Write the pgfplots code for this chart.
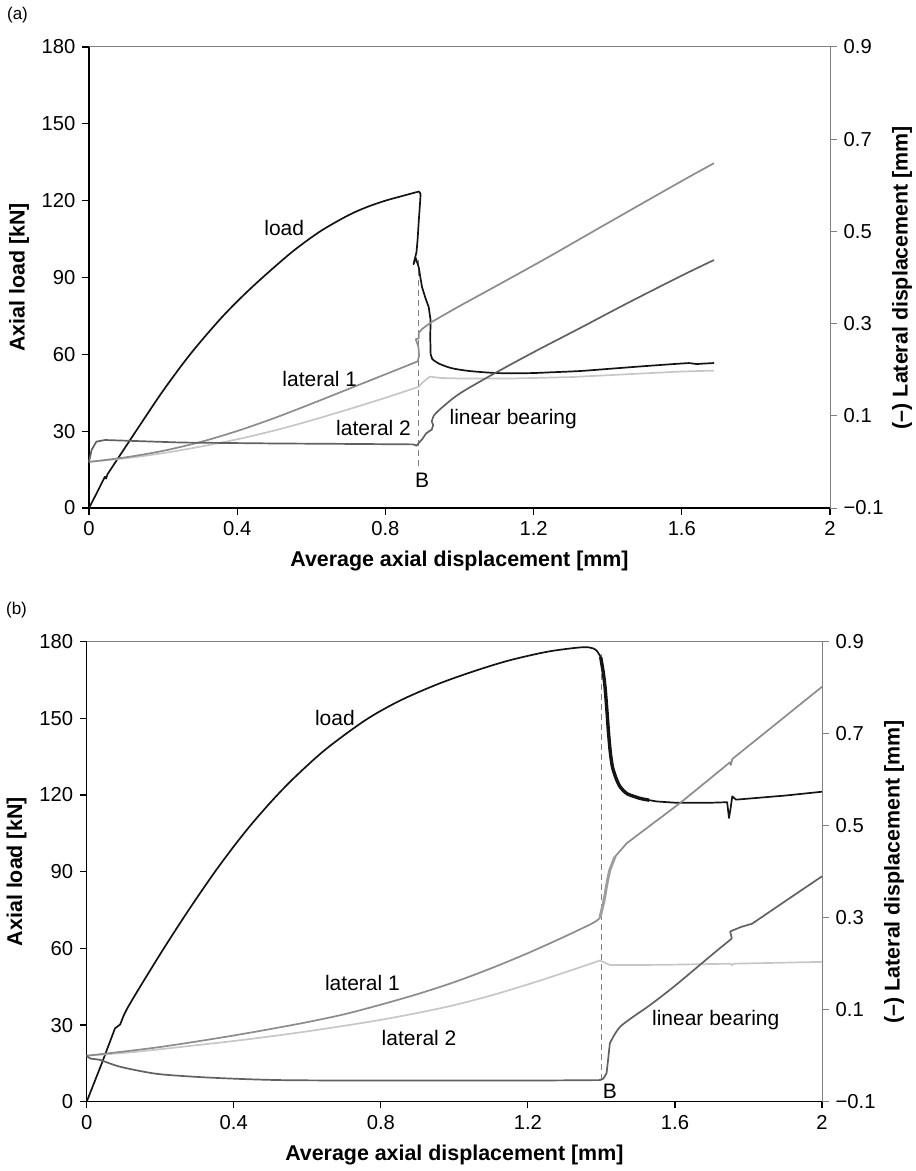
\documentclass[border=0pt]{standalone}
\usepackage{pgfplots}
\pgfplotsset{compat=1.18}
\usepackage{fontspec}
\setmainfont{Liberation Sans}
\newcommand\tfs{\fontsize{10.1}{11}\selectfont}
\newcommand\lfs{\fontsize{10.7}{12}\selectfont\bfseries}
\newcommand\afs{\fontsize{10.5}{12}\selectfont}
\definecolor{cLoad}{gray}{0.08}
\definecolor{cLat1}{gray}{0.55}
\definecolor{cLat2}{gray}{0.78}
\definecolor{cLin}{gray}{0.38}
\definecolor{cAx}{gray}{0.5}

\pgfplotsset{
  common/.style={
    scale only axis, clip=false,
    xmin=0, xmax=2,
    tick align=outside, major tick length=3.3pt,
    ticklabel style={font=\tfs},
    axis line style={-},
  },
  leftax/.style={
    common,
    ymin=0, ymax=180,
    xtick={0,0.4,0.8,1.2,1.6,2}, xticklabels={0,0.4,0.8,1.2,1.6,2},
    ytick={0,30,60,90,120,150,180}, yticklabels={0,30,60,90,120,150,180},
    axis x line*=bottom, axis y line*=left,
    axis line style={black, line width=0.6pt},
    tick style={black, line width=0.6pt},
    xlabel={Average axial displacement [mm]},
    ylabel={Axial load [kN]},
    xlabel style={font=\lfs, at={([yshift=-26.5pt]axis description cs:0.5,0)}, anchor=center},
    ylabel style={font=\lfs, at={([xshift=-35pt]axis description cs:0,0.5)}, anchor=center},
  },
  rightax/.style={
    common,
    ymin=-0.1, ymax=0.9,
    ytick={-0.1,0.1,0.3,0.5,0.7,0.9}, yticklabels={−0.1,0.1,0.3,0.5,0.7,0.9},
    axis x line=none, axis y line*=right,
    axis line style={cAx, line width=0.5pt},
    tick style={cAx, line width=0.5pt},
    ylabel={(–) Lateral displacement [mm]},
    ylabel style={font=\lfs, at={([xshift=36pt]axis description cs:1,0.5)}, anchor=center},
  },
  crv/.style={line width=0.85pt, line join=round, mark=none},
  scrv/.style={crv, smooth, tension=0.5},
}

\begin{document}
\begin{tikzpicture}
\useasboundingbox (0,0) rectangle (457.5pt,-585.5pt);

% ---------------- panel (a) ----------------
\node[font=\fontsize{8.5}{10}\selectfont] at (8.75pt,-7.5pt) {(a)};
\begin{axis}[leftax, at={(44.5pt,-254pt)}, anchor=south west, width=370.5pt, height=230.5pt]
\draw[cAx, densely dashed, line width=0.4pt] (axis cs:0.89,97) -- (axis cs:0.89,15.5);
\addplot[crv, cLoad] coordinates {
(0,0) (0.02,5.6) (0.043,12.2) (0.046,11.5) (0.05,13.2)};
\addplot[scrv, cLoad] coordinates {
(0.05,13.2) (0.129,30.5) (0.2,45.8) (0.273,60) (0.35,73.1) (0.408,81.8) (0.467,89.8)
(0.55,100.2) (0.625,108.1) (0.7,114.3) (0.75,117.5) (0.8,120) (0.85,122) (0.891,123.6)};
\addplot[crv, cLoad] coordinates {
(0.891,123.6) (0.895,122.5) (0.893,118) (0.89,112) (0.887,105)
(0.884,100) (0.878,96.5) (0.876,95.2) (0.882,97.6) (0.89,94) (0.895,89.5) (0.899,86.2)
(0.908,82) (0.917,78.4) (0.922,73.2) (0.921,67) (0.922,60.3)};
\addplot[scrv, cLoad] coordinates {
(0.922,60.3) (0.926,58.3) (0.935,57.2)
(0.944,56.4) (0.965,55.2) (0.985,54.4) (1.02,53.6) (1.057,53.1) (1.1,52.7) (1.15,52.6)
(1.2,52.7) (1.25,53) (1.327,53.5) (1.4,54.3) (1.5,55.4) (1.597,56.4) (1.62,56.6)};
\addplot[crv, cLoad] coordinates {(1.62,56.6) (1.64,56.2) (1.66,56.4) (1.687,56.6)};
\node[font=\afs] at (axis cs:0.527,109.5) {load};
\node[font=\afs] at (axis cs:0.623,50.3) {lateral 1};
\node[font=\afs] at (axis cs:0.768,31.4) {lateral 2};
\node[font=\afs] at (axis cs:1.145,34.9) {linear bearing};
\node[font=\afs] at (axis cs:0.899,10.9) {B};
\end{axis}
\begin{axis}[rightax, at={(44.5pt,-254pt)}, anchor=south west, width=370.5pt, height=230.5pt]
\draw[cAx, line width=0.5pt] (rel axis cs:0,1) -- (rel axis cs:1,1);
\addplot[scrv, cLat2] coordinates {
(0,0) (0.1,0.008) (0.2,0.019) (0.3,0.033) (0.4,0.049) (0.5,0.068) (0.6,0.09) (0.7,0.114)
(0.8,0.139) (0.89,0.163)};
\addplot[crv, cLat2] coordinates {
(0.89,0.163) (0.9,0.172) (0.92,0.185) (0.95,0.182) (1.0,0.181)
(1.147,0.181) (1.3,0.184) (1.45,0.19) (1.597,0.196) (1.687,0.198)};
\addplot[scrv, cLat1] coordinates {
(0,0) (0.1,0.01) (0.2,0.024) (0.3,0.043) (0.4,0.067) (0.5,0.095) (0.6,0.126) (0.7,0.158)
(0.8,0.19) (0.887,0.218)};
\addplot[crv, cLat1] coordinates {
(0.887,0.218) (0.891,0.23) (0.889,0.25)
(0.882,0.266) (0.89,0.268) (0.89,0.28) (0.9,0.289) (0.926,0.304)};
\addplot[scrv, cLat1] coordinates {
(0.926,0.304) (1.0,0.338) (1.1,0.382) (1.237,0.443) (1.4,0.518) (1.597,0.608) (1.687,0.648)};
\addplot[crv, cLin] coordinates {
(0,0) (0.007,0.026) (0.02,0.044) (0.043,0.0475) (0.1,0.046) (0.25,0.042) (0.5,0.040)
(0.7,0.039) (0.876,0.038) (0.884,0.035) (0.89,0.041) (0.9,0.05) (0.91,0.062) (0.925,0.07)
(0.929,0.08) (0.925,0.088) (0.93,0.1)};
\addplot[scrv, cLin] coordinates {
(0.93,0.1) (0.95,0.116) (1.0,0.148) (1.09,0.19) (1.2,0.238)
(1.327,0.291) (1.45,0.343) (1.597,0.403) (1.687,0.438)};
\end{axis}

% ---------------- panel (b) ----------------
\node[font=\fontsize{8.5}{10}\selectfont] at (8.25pt,-305pt) {(b)};
\begin{axis}[leftax, at={(43.35pt,-550.85pt)}, anchor=south west, width=367.65pt, height=230pt]
\draw[cAx, densely dashed, line width=0.4pt] (axis cs:1.4,175) -- (axis cs:1.4,9);
\addplot[crv, cLoad] coordinates {
(0,0) (0.041,15) (0.077,28.7) (0.085,29.6) (0.091,30.2) (0.1,33.5)};
\addplot[scrv, cLoad] coordinates {
(0.1,33.5) (0.113,37.2) (0.15,46.1) (0.208,59.6) (0.275,74.5) (0.345,89.2) (0.4,99.9)
(0.45,108.9) (0.508,118.4) (0.564,126.7) (0.65,137.9) (0.758,149.3) (0.85,156.8)
(0.953,163.3) (1.05,168.3) (1.147,172.6) (1.25,176) (1.33,177.6) (1.365,177.8)
(1.385,176.8) (1.398,174)};
\addplot[cLoad, line width=1.7pt, line join=round, mark=none, smooth, tension=0.4] coordinates {
(1.398,174) (1.405,168) (1.41,162) (1.415,153) (1.419,145) (1.424,137) (1.43,131)
(1.44,126.5) (1.451,123.2) (1.47,120.5) (1.505,118.7) (1.53,118)};
\addplot[crv, cLoad] coordinates {
(1.53,118) (1.55,117.5) (1.6,117) (1.7,117) (1.742,117.2) (1.747,111) (1.751,114.5)
(1.756,119.5) (1.766,118.2) (1.8,118.6) (1.9,119.8) (2.0,121.3)};
\node[font=\afs] at (axis cs:0.675,150) {load};
\node[font=\afs] at (axis cs:0.75,46.3) {lateral 1};
\node[font=\afs] at (axis cs:0.904,24.8) {lateral 2};
\node[font=\afs] at (axis cs:1.711,32) {linear bearing};
\node[font=\afs] at (axis cs:1.423,3.9) {B};
\end{axis}
\begin{axis}[rightax, at={(43.35pt,-550.85pt)}, anchor=south west, width=367.65pt, height=230pt]
\draw[cAx, line width=0.6pt] (rel axis cs:0,1) -- (rel axis cs:1,1);
\addplot[scrv, cLat2] coordinates {
(0,0) (0.1,0.006) (0.2,0.014) (0.3,0.023) (0.4,0.032) (0.5,0.042) (0.6,0.053) (0.7,0.065)
(0.8,0.078) (0.9,0.093) (1.0,0.11) (1.1,0.131) (1.2,0.155) (1.3,0.181) (1.396,0.207)};
\addplot[crv, cLat2] coordinates {
(1.396,0.207)
(1.41,0.202) (1.423,0.197) (1.487,0.197) (1.6,0.198) (1.75,0.2) (1.755,0.197) (1.76,0.2)
(2.0,0.204)};
\addplot[scrv, cLat1] coordinates {
(0,0) (0.1,0.009) (0.2,0.019) (0.3,0.031) (0.4,0.044) (0.5,0.058) (0.6,0.073) (0.7,0.09)
(0.8,0.111) (0.9,0.134) (1.0,0.16) (1.1,0.19) (1.2,0.223) (1.3,0.259) (1.378,0.289)
(1.396,0.3)};
\addplot[cLat1!85, line width=1.5pt, line join=round, mark=none] coordinates {
(1.396,0.3) (1.405,0.33) (1.41,0.35) (1.414,0.37) (1.419,0.39) (1.423,0.404)
(1.437,0.4326)};
\addplot[crv, cLat1] coordinates {
(1.437,0.4326) (1.469,0.462) (1.615,0.55) (1.75,0.638) (1.752,0.632) (1.756,0.645)
(2.0,0.802)};
\addplot[scrv, cLin] coordinates {
(0,0) (0.01,-0.006) (0.036,-0.009) (0.06,-0.016) (0.091,-0.024) (0.15,-0.034)
(0.209,-0.041) (0.345,-0.048) (0.527,-0.053) (0.8,-0.054) (1.0,-0.054) (1.2,-0.054)
(1.396,-0.053)};
\addplot[crv, cLin] coordinates {
(1.396,-0.053) (1.405,-0.05) (1.414,-0.038) (1.418,-0.01) (1.423,0.027) (1.432,0.041)};
\addplot[scrv, cLin] coordinates {
(1.432,0.041) (1.451,0.063) (1.487,0.085) (1.532,0.110) (1.6,0.152) (1.7,0.219) (1.755,0.255)};
\addplot[crv, cLin] coordinates {
(1.755,0.255) (1.75,0.27) (1.78,0.28) (1.81,0.287) (1.9,0.336) (2.0,0.39)};
\end{axis}
\end{tikzpicture}
\end{document}
